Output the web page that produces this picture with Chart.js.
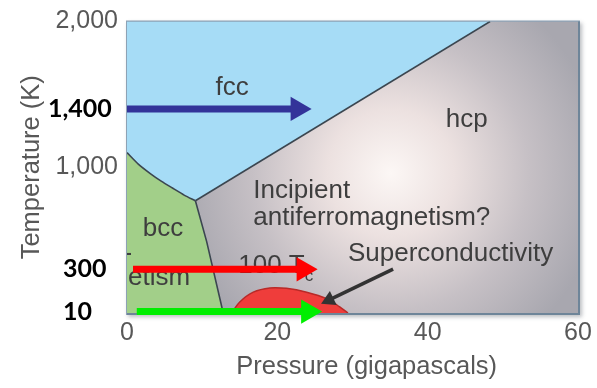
<!DOCTYPE html>
<html>
<head>
<meta charset="utf-8">
<script src="https://cdn.jsdelivr.net/npm/chart.js@4.4.1/dist/chart.umd.min.js"></script>
<style>
  html, body { margin: 0; padding: 0; background: #ffffff; }
  #wrap { width: 597px; height: 388px; }
</style>
</head>
<body>
<div id="wrap"><canvas id="phase" width="597" height="388"></canvas></div>
<script>
// Phase diagram of iron: pressure (GPa) against temperature (K)
const pressureTicks = [0, 20, 40, 60];
const temperatureTicks = [1000, 2000];
const P_MAX = 60;
const T_MAX = 2000;

// fcc / bcc boundary, from the temperature axis down to the triple point
const fccBccP = [0, 1.5, 3.1, 4.6, 6.1, 7.6, 9.1];
const fccBccT = [1100, 1022, 957, 903, 856, 809, 770];
// fcc / hcp boundary, from the triple point up to the top of the plot
const fccHcpP = [9.1, 48.3];
const fccHcpT = [770, 2000];
// bcc / hcp boundary, from the triple point down to the pressure axis
const bccHcpP = [9.1, 10.6, 12.8];
const bccHcpT = [770, 490, 0];
// superconducting dome
const superP = [13.9, 15.0, 16.8, 19.0, 21.2, 23.9, 26.6, 28.3, 29.4];
const superT = [0, 76, 143, 172, 169, 143, 98, 42, 0];

// isotherm arrows (temperature, start pressure, arrow-head pressure)
const arrowTemps = [1400, 300, 10];
const arrowStartP = [0, 0.8, 1.3];
const arrowEndP = [22.7, 23.5, 24.1];

// pointer from the "Superconductivity" note to the dome
const pointerP = [35.4, 26.9];
const pointerT = [301, 90];

// region and note labels: [text, pressure, temperature, alignment]
const regionLabels = [
  ['fcc', 14.0, 1545, 'center'],
  ['hcp', 45.2, 1324, 'center'],
  ['Incipient', 16.8, 836, 'left'],
  ['antiferromagnetism?', 16.8, 655, 'left'],
  ['Superconductivity', 29.4, 408, 'left'],
  ['bcc', 2.1, 575, 'left']
];

// ---- styles ----
const FCC_COLOR = '#a6dcf6';
const BCC_COLOR = '#a2cf89';
const DOME_COLOR = '#ef3d3b';
const LINE_COLOR = '#3b4650';
const ARROW_COLORS = ['#333399', '#ff0000', '#00ee00'];
const TEXT_COLOR = '#3e3e3e';
const AXIS_COLOR = '#585858';
const SANS = "'Liberation Sans', Arial, Helvetica, sans-serif";

const pts = (xs, ys) => xs.map((x, i) => ({ x: x, y: ys[i] }));

const fccBoundary = pts(fccBccP, fccBccT);
const fccHcpLine = pts(fccHcpP, fccHcpT);
const bccHcpLine = pts(bccHcpP, bccHcpT);

const fccRegion = [{ x: 0, y: T_MAX }, ...fccBoundary, fccHcpLine[1]];
const bccRegion = [{ x: 0, y: 0 }, ...fccBoundary, ...bccHcpLine.slice(1)];
const hcpRegion = [...fccHcpLine, { x: P_MAX, y: T_MAX }, { x: P_MAX, y: 0 }, ...bccHcpLine.slice().reverse()];

function hcpFill(ctx) {
  const chart = ctx.chart;
  const a = chart.chartArea;
  if (!a) return '#b4b1b8';
  const cx = a.left + a.width * 0.585;
  const cy = a.top + a.height * 0.52;
  const g = chart.ctx.createRadialGradient(cx, cy, 0, cx, cy, a.width * 0.47);
  g.addColorStop(0, '#fcf7f5');
  g.addColorStop(0.3, '#ece1e0');
  g.addColorStop(0.65, '#c6c0c5');
  g.addColorStop(1, '#a8a7af');
  return g;
}

function region(data, color, order) {
  return {
    data: data, fill: 'shape', backgroundColor: color,
    borderColor: 'rgba(0,0,0,0)', borderWidth: 0, pointRadius: 0, order: order
  };
}
function boundary(data, tension) {
  return {
    data: data, fill: false, borderColor: LINE_COLOR, borderWidth: 1.6,
    pointRadius: 0, tension: tension || 0, order: 5
  };
}

const datasets = [
  region(hcpRegion, hcpFill, 9),
  region(fccRegion, FCC_COLOR, 8),
  region(bccRegion, BCC_COLOR, 7),
  {
    data: pts(superP, superT), fill: 'shape', backgroundColor: DOME_COLOR,
    borderColor: '#b82a28', borderWidth: 1.5, tension: 0.35, pointRadius: 0, order: 6
  },
  boundary(fccBoundary, 0.3),
  boundary(fccHcpLine),
  boundary(bccHcpLine),
  {
    label: 'pointer',
    data: pts(pointerP, pointerT), fill: false, borderColor: '#333333', borderWidth: 3.5,
    pointStyle: 'triangle', pointRadius: [0, 9], pointBackgroundColor: '#333333',
    pointBorderWidth: 0, clip: false, order: 2,
    pointRotation: (ctx) => {
      const c = ctx.chart;
      const dx = c.scales.x.getPixelForValue(pointerP[1]) - c.scales.x.getPixelForValue(pointerP[0]);
      const dy = c.scales.y.getPixelForValue(pointerT[1]) - c.scales.y.getPixelForValue(pointerT[0]);
      return Math.atan2(dy, dx) * 180 / Math.PI + 90;
    }
  }
];

arrowTemps.forEach((t, i) => {
  datasets.push({
    label: 'isotherm',
    data: [{ x: arrowStartP[i], y: t }, { x: arrowEndP[i], y: t }],
    fill: false, borderColor: ARROW_COLORS[i], borderWidth: 7, borderCapStyle: 'butt',
    pointStyle: 'triangle', pointRadius: [0, 14], pointRotation: 90,
    pointBackgroundColor: ARROW_COLORS[i], pointBorderWidth: 0, clip: false, order: 1
  });
});

// plot frame with a soft drop shadow
const framePlugin = {
  id: 'frame',
  beforeDatasetsDraw(chart) {
    const { ctx, chartArea: a } = chart;
    ctx.save();
    ctx.shadowColor = 'rgba(60,70,80,0.35)';
    ctx.shadowBlur = 4;
    ctx.shadowOffsetX = 2;
    ctx.shadowOffsetY = 2;
    ctx.fillStyle = '#8da2b5';
    ctx.fillRect(a.left - 1, a.top - 1, a.width + 3, a.height + 3);
    ctx.restore();
    ctx.save();
    ctx.fillStyle = '#6e8599';
    ctx.fillRect(a.right, a.top, 2, a.height + 2);
    ctx.fillRect(a.left, a.bottom, a.width + 2, 2);
    ctx.restore();
  }
};

// phase names and notes, drawn above the regions and below the arrows
const notesPlugin = {
  id: 'notes',
  beforeDatasetDraw(chart, args) {
    if (chart.data.datasets[args.index].label !== 'pointer') return;
    const { ctx, chartArea: a, scales: { x, y } } = chart;
    ctx.save();
    ctx.fillStyle = TEXT_COLOR;
    ctx.textBaseline = 'middle';
    ctx.font = '26px ' + SANS;
    regionLabels.forEach(([text, p, t, align]) => {
      ctx.textAlign = align;
      ctx.fillText(text, x.getPixelForValue(p), y.getPixelForValue(t));
    });
    // "100 Tc"
    ctx.textAlign = 'left';
    const tx = x.getPixelForValue(14.8);
    const ty = y.getPixelForValue(321);
    ctx.fillText('100 T', tx, ty);
    const w = ctx.measureText('100 T').width;
    ctx.font = '17px ' + SANS;
    ctx.fillText('c', tx + w, ty + 10);
    // partly hidden "Ferro-/magnetism" note at the plot edge
    ctx.beginPath();
    ctx.rect(a.left, a.top, a.width, a.height);
    ctx.clip();
    ctx.font = '26px ' + SANS;
    ctx.textAlign = 'right';
    ctx.fillText('Ferro-', x.getPixelForValue(0.7), y.getPixelForValue(408));
    ctx.fillText('magnetism', x.getPixelForValue(8.4), y.getPixelForValue(241));
    ctx.restore();
  },
  afterDraw(chart) {
    // temperature labels of the isotherm arrows
    const { ctx, scales: { y } } = chart;
    const lefts = [48, 63, 63];
    ctx.save();
    ctx.fillStyle = '#000000';
    ctx.font = "bold 25px Lato, 'Liberation Sans', sans-serif";
    ctx.textBaseline = 'middle';
    ctx.textAlign = 'left';
    arrowTemps.forEach((t, i) => {
      ctx.fillText(t.toLocaleString('en-US'), lefts[i], y.getPixelForValue(t));
    });
    ctx.restore();
  }
};

new Chart(document.getElementById('phase'), {
  type: 'line',
  data: { datasets: datasets },
  options: {
    responsive: false,
    animation: false,
    events: [],
    layout: { padding: { top: 14, right: 19, left: 0, bottom: 0 } },
    plugins: { legend: { display: false }, tooltip: { enabled: false } },
    scales: {
      x: {
        type: 'linear', min: 0, max: P_MAX,
        afterBuildTicks: (s) => { s.ticks = pressureTicks.map(v => ({ value: v })); },
        afterFit: (s) => { s.height = 75; },
        grid: { display: false, drawTicks: false },
        border: { display: false },
        ticks: {
          padding: 5, color: AXIS_COLOR,
          font: { family: SANS, size: 25, lineHeight: 1.2 },
          callback: (v) => v.toLocaleString('en-US')
        },
        title: {
          display: true, text: '    Pressure (gigapascals)', color: AXIS_COLOR,
          font: { family: SANS, size: 25.5, lineHeight: 1.2 },
          padding: { top: 0, bottom: 6 }
        }
      },
      y: {
        type: 'linear', min: 0, max: T_MAX,
        afterBuildTicks: (s) => { s.ticks = temperatureTicks.map(v => ({ value: v })); },
        afterFit: (s) => { s.width = 127; },
        grid: { display: false, drawTicks: false },
        border: { display: false },
        ticks: {
          padding: 9, color: AXIS_COLOR,
          font: { family: SANS, size: 25, lineHeight: 1 },
          callback: (v) => v.toLocaleString('en-US')
        },
        title: {
          display: true, text: 'Temperature (K)', color: AXIS_COLOR,
          font: { family: SANS, size: 25.5, lineHeight: 1.2 },
          padding: { top: 17, bottom: 0 }
        }
      }
    }
  },
  plugins: [framePlugin, notesPlugin]
});
</script>
</body>
</html>
